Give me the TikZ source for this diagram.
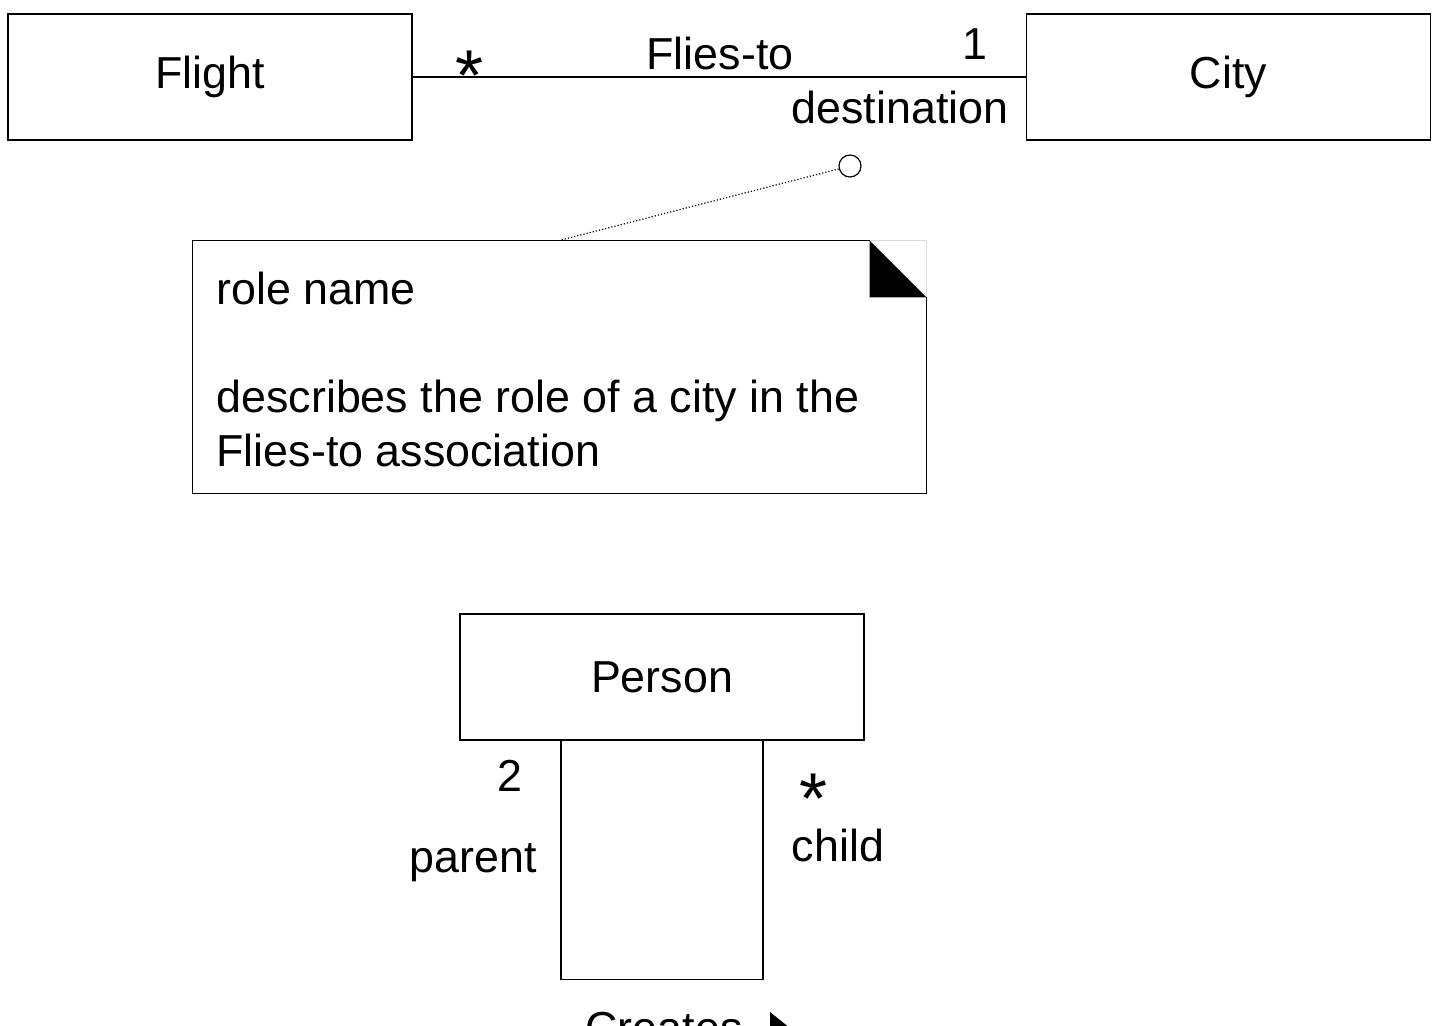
\documentclass[tikz,border=0pt]{standalone}
\usepackage{fontspec}
\setmainfont{Liberation Sans}
\usetikzlibrary{positioning}

\begin{document}
\begin{tikzpicture}[x=0.5pt,y=-0.5pt,line width=0.6pt,
		font=\fontsize{22.4}{27}\selectfont]
		\tikzstyle{cls}=[draw,inner sep=0pt,minimum width=202pt,minimum height=63pt]
		\tikzstyle{lbl}=[inner sep=0pt]
		\tikzstyle{star}=[inner sep=0pt,text height=12pt,text depth=0pt,font=\fontsize{36}{36}\selectfont]
		
		\useasboundingbox (0,0) rectangle (1438,1025);
		\clip (0,0) rectangle (1438,1025);
		
		\node[cls] (A) at (210,77)    {Flight};
		\node[cls] (B) at (1228.5,77) {City};
		\node[cls] (P) at (662,677)   {Person};
		
		% Flies-to association
		\draw (A.east) -- (B.west);
		\node[star] at (470,88)  {*};
		\node[lbl]  at (720,53)  {Flies-to};
		\node[lbl]  at (975,44)  {1};
		\node[lbl]  at (900,107) {destination};
		
		% note
		\node[minimum width=366.5pt,minimum height=126pt] (N) at (559.5,367) {};
		\node[lbl,anchor=base west,align=left] (T) at (216,466)
			{role name\\ \\describes the role of a city in the\\Flies-to association};
		\draw (N.south west) -- (N.north west) -- ([xshift=-28.5pt]N.north east);
		\draw ([yshift=-28.5pt]N.north east) -- (N.south east) -- (N.south west);
		\draw[gray!30] ([xshift=-28.5pt]N.north east) -- (N.north east) -- ([yshift=-28.5pt]N.north east);
		\fill ([xshift=-28.5pt]N.north east) -- ([xshift=-28.5pt,yshift=-28.5pt]N.north east)
			-- ([yshift=-28.5pt]N.north east) -- cycle;
		\node[circle,draw,inner sep=0pt,minimum size=11pt] (R) at (850,166) {};
		\draw[densely dotted] (R) -- (N.north);
		
		% Creates association
		\draw ([xshift=-50.5pt]P.south) -- ++(0,239) -- ++(202,0) -- ([xshift=50.5pt]P.south);
		\node[lbl]  at (510,776) {2};
		\node[lbl]  at (473,863) {parent};
		\node[star] at (813,811) {*};
		\node[lbl]  at (838,845) {child};
		\node[lbl,anchor=base west] (C) at (585,1043) {Creates};
		\fill (770,1012) -- (770,1052) -- (795,1032) -- cycle;
		
\end{tikzpicture}
\end{document}
